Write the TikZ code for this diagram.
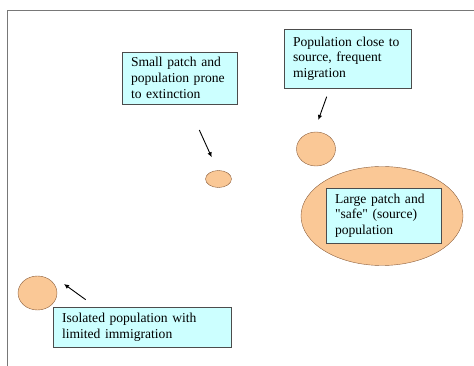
\documentclass[tikz,border=0pt]{standalone}
\usepackage{fontspec}
\setmainfont{Liberation Serif}[Ligatures=TeXOff]
\usepackage{tikz}
\usetikzlibrary{arrows.meta,shapes.geometric}
\definecolor{boxcyan}{RGB}{204,255,255}
\definecolor{patchfill}{RGB}{250,200,150}
\definecolor{patchline}{RGB}{140,95,60}
\definecolor{framegray}{RGB}{120,120,120}

\begin{document}
\begin{tikzpicture}[x=1pt,y=-1pt,
  infobox/.style={draw=black!70,fill=boxcyan,align=left,inner xsep=9pt,inner ysep=0pt,
    font=\fontsize{13.6}{15.7}\selectfont},
  patch/.style={ellipse,draw=patchline,fill=patchfill,inner sep=0pt},
  pointer/.style={-{Latex[length=5pt,width=4.5pt]},line width=0.9pt}]
  \useasboundingbox (0,0) rectangle (474,366);
  \draw[framegray,line width=1pt] (7,366)--(7,11)--(474,11);
  % patches
  \node[patch,minimum width=162,minimum height=99] (largepatch) at (382,216) {};
  \node[patch,minimum width=39,minimum height=34] (nearpatch) at (316,149) {};
  \node[patch,minimum width=26,minimum height=17] (smallpatch) at (218.5,179) {};
  \node[patch,minimum width=39,minimum height=34] (lonepatch) at (37.5,293) {};
  % labels
  \node[infobox,text width=97,minimum height=52] (smallbox) at (179.5,78) {Small patch and\\population prone\\to extinction};
  \node[infobox,text width=109,minimum height=59] (nearbox) at (347.5,58.5) {Population close to\\source, frequent\\migration};
  \node[infobox,text width=97,minimum height=55] (largebox) at (383.5,215.5) {Large patch and\\"safe" (source)\\population};
  \node[infobox,text width=160,minimum height=40] (lonebox) at (142,327) {Isolated population with\\limited immigration};
  % pointers
  \coordinate (smalltail) at (199.3,130); \coordinate (smalltip) at (211.7,157.3);
  \coordinate (neartail) at (326.7,96.7); \coordinate (neartip) at (318.3,120);
  \coordinate (lonetail) at (85.7,299.7); \coordinate (lonetip) at (64,284);
  \draw[pointer] (smalltail)--(smalltip);
  \draw[pointer] (neartail)--(neartip);
  \draw[pointer] (lonetail)--(lonetip);
\end{tikzpicture}
\end{document}
